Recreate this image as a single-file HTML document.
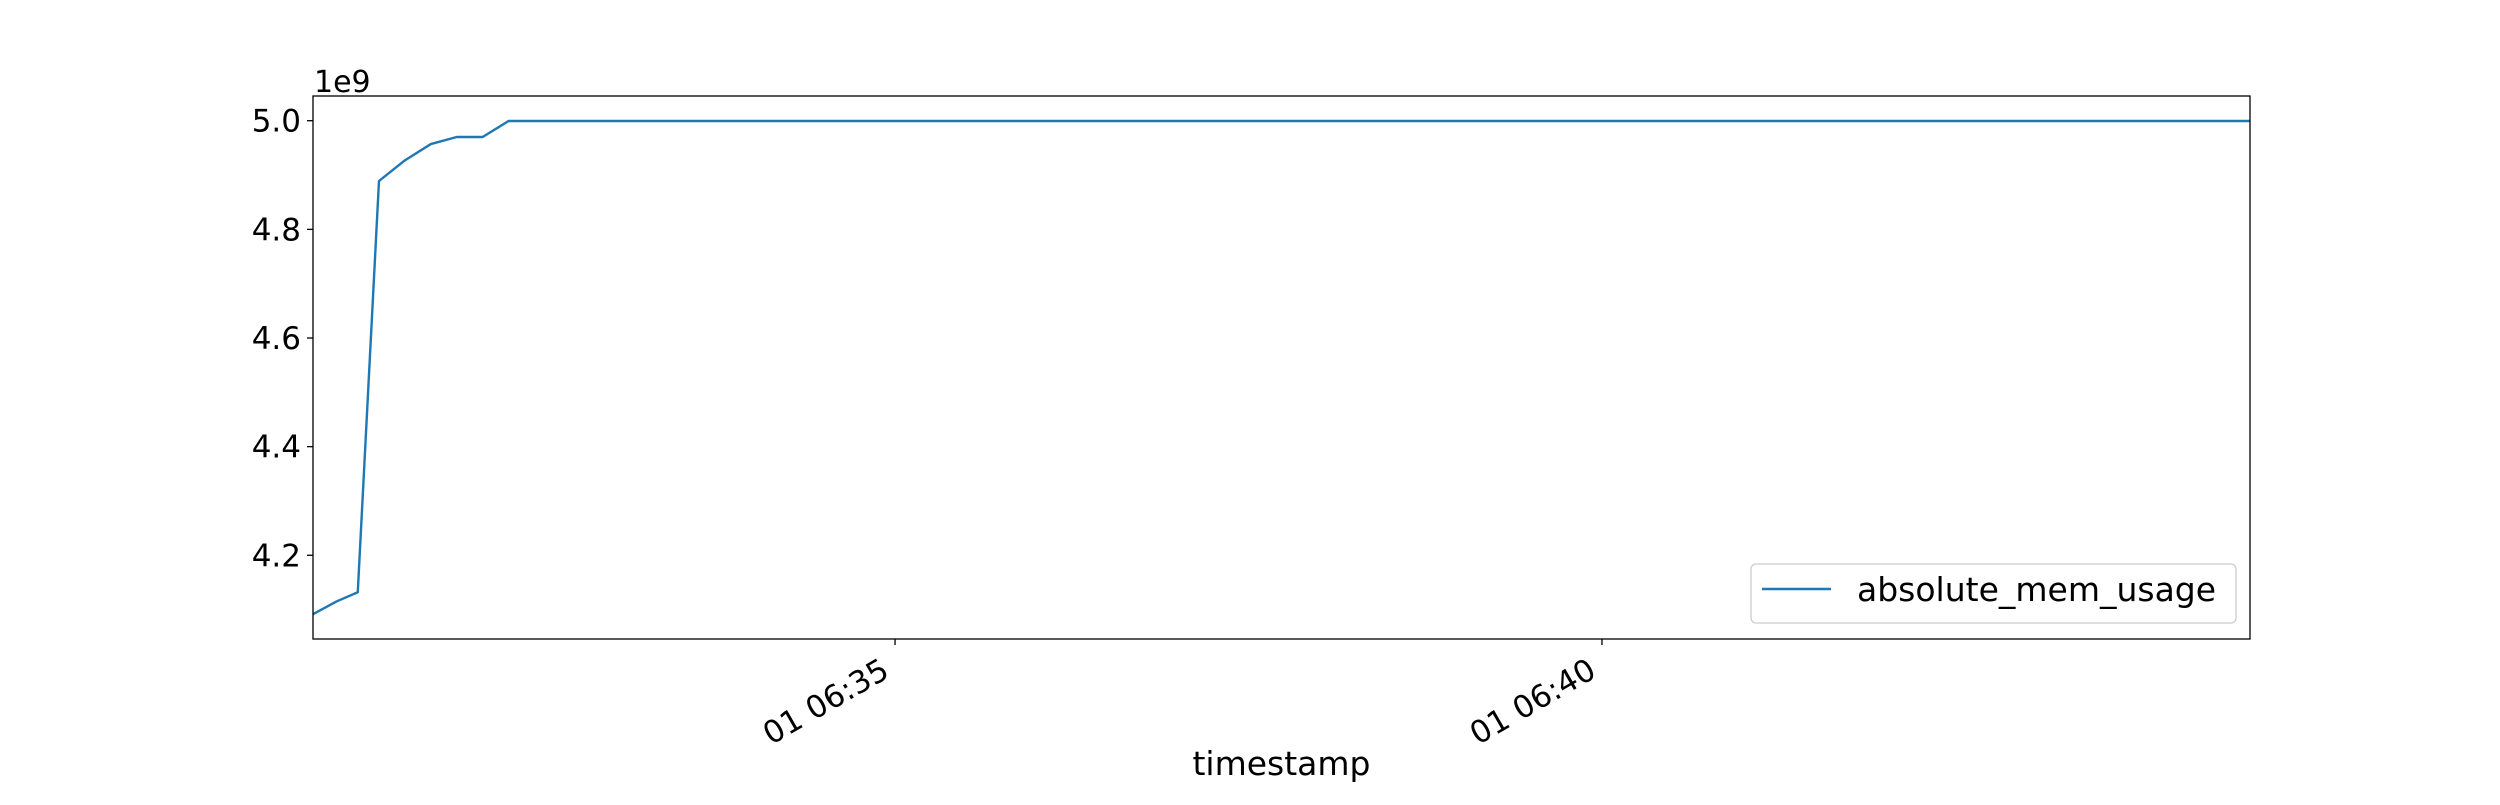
<!DOCTYPE html>
<html><head><meta charset="utf-8"><style>
html,body{margin:0;padding:0;background:#fff;}
svg text{font-family:"DejaVu Sans","Liberation Sans",sans-serif;fill:#000;}
</style></head><body>
<svg id="chart" width="2500" height="800" viewBox="0 0 2500 800" xmlns="http://www.w3.org/2000/svg">
<rect x="0" y="0" width="2500" height="800" fill="#fff"/>
<g id="plot"></g>
</svg>
<script>
// times in seconds since 06:30:00
const times = [1853, 1863, 1872, 1881, 1892, 1903, 1914, 1925, 1936, 2675];
const values = [4.0915, 4.115, 4.132, 4.889, 4.927, 4.957, 4.970, 4.970, 4.9995, 4.9995];
const yTicks = [4.2, 4.4, 4.6, 4.8, 5.0];
const yTickLabels = ["4.2", "4.4", "4.6", "4.8", "5.0"];
const xTicks = [2100, 2400];
const xTickLabels = ["01 06:35", "01 06:40"];

const L = 313, R = 2250, T = 96, B = 639;
const xMin = 1853, xMax = 2675, yMin = 4.0459, yMax = 5.0455;
const NS = "http://www.w3.org/2000/svg";
const g = document.getElementById('plot');
function xs(t){ return L + (t - xMin) / (xMax - xMin) * (R - L); }
function ys(v){ return B - (v - yMin) / (yMax - yMin) * (B - T); }
function mk(tag, attrs){ const e = document.createElementNS(NS, tag); for (const k in attrs) e.setAttribute(k, attrs[k]); g.appendChild(e); return e; }

let d = '';
times.forEach((t, i) => { d += (i ? 'L' : 'M') + xs(t).toFixed(2) + ' ' + ys(values[i]).toFixed(2); });
const line = mk('path', {d: d, fill: 'none', stroke: '#1f77b4', 'stroke-width': 2.4, 'stroke-linejoin': 'round'});



const frame = mk('rect', {x: L, y: T, width: R - L, height: B - T, fill: 'none', stroke: '#000', 'stroke-width': 1.3});



yTicks.forEach((v, i) => {
  const y = ys(v);
  const tk = mk('line', {x1: L - 6, x2: L, y1: y, y2: y, stroke: '#000', 'stroke-width': 1.3});
  
  
  const tx = mk('text', {x: 301, y: y + 11, 'text-anchor': 'end', 'font-size': 31});
  tx.textContent = yTickLabels[i];
  
  
});

xTicks.forEach((t, i) => {
  const x = xs(t);
  const tk = mk('line', {x1: x, x2: x, y1: B, y2: B + 6, stroke: '#000', 'stroke-width': 1.3});
  
  
  const tx = mk('text', {transform: 'translate(' + (x - 4) + ',676) rotate(-30)', 'text-anchor': 'end', 'font-size': 31});
  tx.textContent = xTickLabels[i];
  
  
});

const off = mk('text', {x: 314, y: 92, 'font-size': 30});
off.textContent = '1e9';



const xl = mk('text', {x: (L + R) / 2, y: 775, 'text-anchor': 'middle', 'font-size': 33});
xl.textContent = 'timestamp';



const lg = mk('rect', {x: 1751, y: 564, width: 485, height: 59, rx: 5, fill: '#fff', 'fill-opacity': 0.8, stroke: '#ccc', 'stroke-width': 1.3});


const ll = mk('line', {x1: 1762, x2: 1831, y1: 589, y2: 589, stroke: '#1f77b4', 'stroke-width': 2.4});


const lt = mk('text', {x: 1857, y: 601, 'font-size': 33});
lt.textContent = 'absolute_mem_usage';


</script>
</body></html>
